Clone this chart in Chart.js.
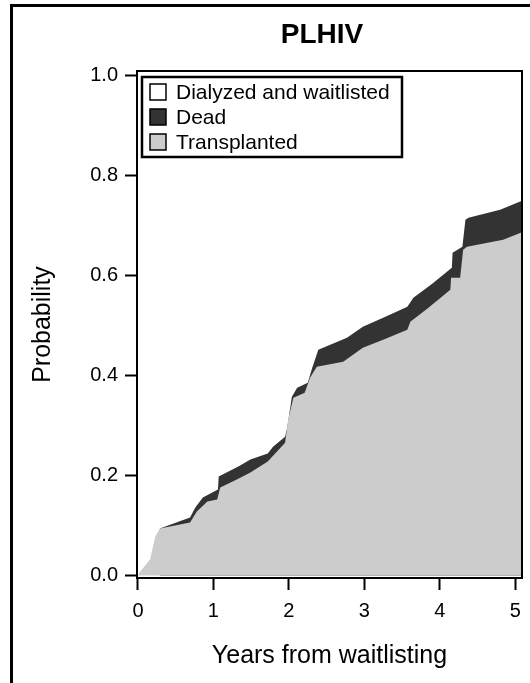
<!DOCTYPE html>
<html><head><meta charset="utf-8">
<script src="https://cdn.jsdelivr.net/npm/chart.js@4.4.0/dist/chart.umd.min.js"></script>
<style>html,body{margin:0;padding:0;background:#fff;}#wrap{width:530px;height:683px;position:relative;}</style>
</head><body><div id="wrap"><canvas id="c" width="530" height="683"></canvas></div>
<script>
const titleText = 'PLHIV';
const xTitle = 'Years from waitlisting';
const yTitle = 'Probability';
const legendLabels = ['Dialyzed and waitlisted', 'Dead', 'Transplanted'];
const xTicks = [0, 1, 2, 3, 4, 5];
const yTicks = [0, 0.2, 0.4, 0.6, 0.8, 1.0];

// Cumulative probability of transplant (lower, grey band)
const transplantTimes = [0, 0.03, 0.16, 0.23, 0.29, 0.69, 0.78, 0.92, 1.05, 1.09, 1.31, 1.49, 1.72, 1.95, 1.99, 2.06, 2.21, 2.28, 2.37, 2.72, 2.98, 3.25, 3.57, 3.61, 3.85, 4.14, 4.15, 4.27, 4.31, 4.36, 4.84, 5.11];
const transplantProb  = [0, 0.008, 0.032, 0.078, 0.094, 0.106, 0.128, 0.148, 0.152, 0.176, 0.192, 0.206, 0.228, 0.265, 0.311, 0.355, 0.365, 0.395, 0.417, 0.427, 0.455, 0.471, 0.491, 0.507, 0.535, 0.571, 0.595, 0.595, 0.651, 0.657, 0.671, 0.687];

// Cumulative probability of transplant or death (upper edge of dark band)
const deadTopTimes = [0.29, 0.69, 0.76, 0.86, 1.06, 1.07, 1.33, 1.49, 1.72, 1.79, 1.95, 1.98, 2.04, 2.11, 2.25, 2.31, 2.39, 2.77, 2.98, 3.25, 3.57, 3.65, 3.90, 4.16, 4.17, 4.30, 4.34, 4.38, 4.80, 5.11];
const deadTopProb  = [0.094, 0.116, 0.136, 0.156, 0.172, 0.198, 0.218, 0.232, 0.244, 0.257, 0.277, 0.297, 0.357, 0.375, 0.385, 0.415, 0.451, 0.475, 0.497, 0.515, 0.537, 0.555, 0.583, 0.615, 0.645, 0.657, 0.711, 0.715, 0.731, 0.750];

const legendColors = ['#ffffff', '#333333', '#cccccc'];
const FONT = "'Liberation Sans', Arial, sans-serif";

const pts = (xs, ys) => xs.map((x, i) => ({x: x, y: ys[i]}));

const decorPlugin = {
  id: 'decor',
  beforeDraw(chart) {
    const ctx = chart.ctx;
    ctx.save();
    ctx.fillStyle = '#fff';
    ctx.fillRect(0, 0, chart.width, chart.height);
    ctx.strokeStyle = '#000';
    ctx.lineWidth = 3;
    ctx.strokeRect(11.5, 5.5, 700, 800);
    ctx.restore();
  },
  afterDraw(chart) {
    const ctx = chart.ctx;
    const a = chart.chartArea;
    ctx.save();
    ctx.strokeStyle = '#000';
    ctx.lineWidth = 2;
    ctx.strokeRect(a.left, a.top, a.right - a.left, a.bottom - a.top);
    // title
    ctx.fillStyle = '#000';
    ctx.font = 'bold 28px ' + FONT;
    ctx.textAlign = 'center';
    ctx.textBaseline = 'middle';
    ctx.fillText(titleText, 322, 35);
    // legend
    const lx = 142, ly = 77, lw = 260, lh = 80;
    ctx.lineWidth = 2.5;
    ctx.fillStyle = '#fff';
    ctx.fillRect(lx, ly, lw, lh);
    ctx.strokeRect(lx, ly, lw, lh);
    ctx.font = '21px ' + FONT;
    ctx.textAlign = 'left';
    legendLabels.forEach((lab, i) => {
      const cy = ly + 15 + i * 25;
      ctx.fillStyle = legendColors[i];
      ctx.fillRect(150, cy - 8, 16, 16);
      ctx.lineWidth = 1.5;
      ctx.strokeStyle = '#000';
      ctx.strokeRect(150, cy - 8, 16, 16);
      ctx.fillStyle = '#000';
      ctx.fillText(lab, 176, cy + 1);
    });
    ctx.restore();
  }
};

new Chart(document.getElementById('c'), {
  type: 'line',
  data: {
    datasets: [
      {label: legendLabels[2], data: pts(transplantTimes, transplantProb), backgroundColor: legendColors[2], borderWidth: 0, pointRadius: 0, fill: 'origin', tension: 0},
      {label: legendLabels[1], data: pts(deadTopTimes, deadTopProb), backgroundColor: legendColors[1], borderWidth: 0, pointRadius: 0, fill: 'origin', tension: 0}
    ]
  },
  options: {
    responsive: false,
    animation: false,
    devicePixelRatio: 1,
    layout: {padding: {left: 12, top: 71, right: 8, bottom: 0}},
    plugins: {legend: {display: false}, tooltip: {enabled: false}, title: {display: false}},
    scales: {
      x: {
        type: 'linear', min: -0.013, max: 5.09,
        afterBuildTicks: s => { s.ticks = xTicks.map(v => ({value: v})); },
        afterFit: s => { s.height = 105; },
        ticks: {font: {family: FONT, size: 20}, color: '#000', padding: 9, maxRotation: 0, autoSkip: false, callback: v => String(v)},
        grid: {drawOnChartArea: false, drawTicks: true, tickLength: 12, tickWidth: 2, tickColor: '#000'},
        border: {display: true, color: '#000', width: 2},
        title: {display: true, text: xTitle, font: {family: FONT, size: 25}, color: '#000', padding: {top: 0, bottom: 12}}
      },
      y: {
        type: 'linear', min: -0.005, max: 1.008,
        afterBuildTicks: s => { s.ticks = yTicks.map(v => ({value: v})); },
        afterFit: s => { s.width = 125; },
        ticks: {font: {family: FONT, size: 20}, color: '#000', padding: 7, autoSkip: false, callback: v => Number(v).toFixed(1)},
        grid: {drawOnChartArea: false, drawTicks: true, tickLength: 12, tickWidth: 2, tickColor: '#000'},
        border: {display: true, color: '#000', width: 2},
        title: {display: true, text: yTitle, font: {family: FONT, size: 25}, color: '#000', padding: {top: 16, bottom: 0}}
      }
    }
  },
  plugins: [decorPlugin]
});
</script></body></html>
